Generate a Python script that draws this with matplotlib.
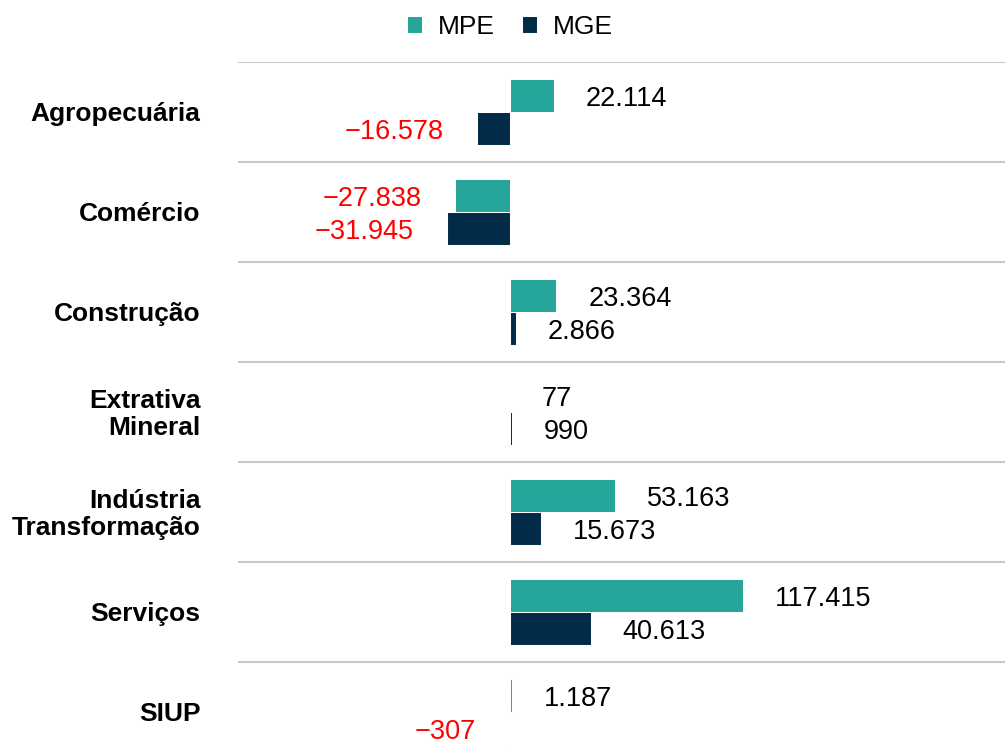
import matplotlib.pyplot as plt
import numpy as np

# Dados (saldo de empregos por setor)
categorias = ["Agropecuária", "Comércio", "Construção", "Extrativa\nMineral",
              "Indústria\nTransformação", "Serviços", "SIUP"]
mpe = [22114, -27838, 23364, 77, 53163, 117415, 1187]
mge = [-16578, -31945, 2866, 990, 15673, 40613, -307]
series = ["MPE", "MGE"]

COR_MPE = "#26A69A"
COR_MGE = "#022B47"
COR_NEG = "#FF0000"

plt.rcParams["font.family"] = ["Liberation Sans", "DejaVu Sans"]


def fmt(v):
    s = f"{abs(v):,}".replace(",", ".")
    return ("\u2212" + s) if v < 0 else s


fig = plt.figure(figsize=(10.05, 7.56), dpi=100)
ax = fig.add_axes([238 / 1005, -6 / 756, 767 / 1005, 700 / 756])

y = np.arange(len(categorias))
h = 0.335
off = 0.165
b1 = ax.barh(y - off, mpe, height=h, color=COR_MPE, label=series[0],
             edgecolor="white", linewidth=0.75)
b2 = ax.barh(y + off, mge, height=h, color=COR_MGE, label=series[1],
             edgecolor="white", linewidth=0.75)

ax.set_xlim(-137000, 249400)
ax.set_ylim(len(categorias) - 0.5, -0.5)

# linhas separadoras
for i in range(len(categorias) + 1):
    ax.axhline(i - 0.5, color="#C8C8C8", lw=1.5, zorder=0)

# rótulos de valor
for bars, vals in [(b1, mpe), (b2, mge)]:
    for bar, v in zip(bars, vals):
        yc = bar.get_y() + bar.get_height() / 2
        if v >= 0:
            ax.annotate(fmt(v), (v, yc), xytext=(23, -2.5), textcoords="offset points",
                        ha="left", va="center", fontsize=19.5, color="black")
        else:
            ax.annotate(fmt(v), (v, yc), xytext=(-24, -2.5), textcoords="offset points",
                        ha="right", va="center", fontsize=19.5, color=COR_NEG)

# nomes das categorias
for yi, cat in zip(y, categorias):
    ax.annotate(cat, (0, yi), xycoords=("axes fraction", "data"),
                xytext=(-27, -1.5), textcoords="offset points",
                ha="right", va="center", fontsize=19, fontweight="bold",
                linespacing=1.15, annotation_clip=False)

ax.set_xticks([])
ax.set_yticks([])
for s in ax.spines.values():
    s.set_visible(False)

fig.legend(handles=[b1, b2], labels=series, loc="center",
           bbox_to_anchor=(510 / 1005, 1 - 27 / 756), ncol=2, frameon=False,
           fontsize=19, handlelength=0.6, handleheight=0.6, handletextpad=0.6,
           columnspacing=1.0)

fig.savefig("out.png", dpi=100)
